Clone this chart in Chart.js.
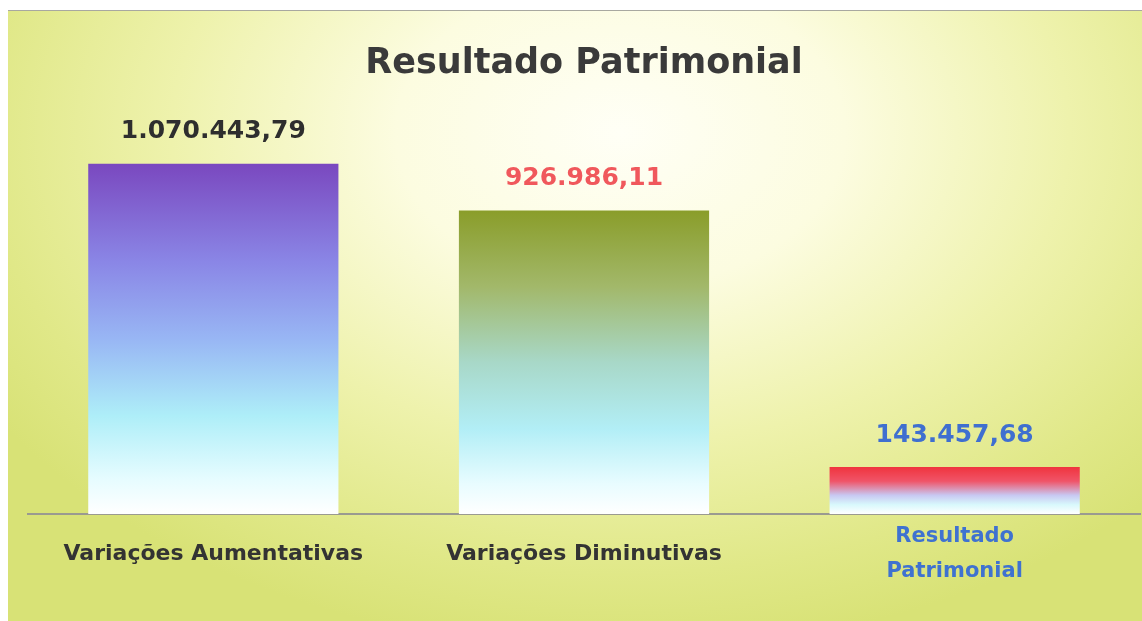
<!DOCTYPE html>
<html>
<head>
<meta charset="utf-8">
<script src="https://cdn.jsdelivr.net/npm/chart.js@4/dist/chart.umd.min.js"></script>
<style>
html, body { margin: 0; padding: 0; background: #ffffff; }
#bg {
  position: absolute; left: 8px; top: 10px; right: 0; bottom: 0;
  border-top: 1px solid #a8a8a0;
  background: radial-gradient(ellipse 66% 85% at 54% 20%, #fffff6 0%, #fcfce0 30%, #eef2ac 60%, #e0e888 85%, #d8e276 100%);
}
#wrap { position: absolute; left: 0; top: 0; width: 1142px; height: 621px; }
</style>
</head>
<body>
<div id="bg"></div>
<div id="wrap"><canvas id="grafico" width="1142" height="621"></canvas></div>
<script>
// dados do gráfico
const categorias = [['Variações Aumentativas'], ['Variações Diminutivas'], ['Resultado', 'Patrimonial']];
const valores = [1070443.79, 926986.11, 143457.68];
const rotulos = ['1.070.443,79', '926.986,11', '143.457,68'];
const coresRotulos = ['#2e2e2e', '#f0585c', '#3f6fd0'];
const coresEixo = ['#333333', '#333333', '#3f72d0'];
const gradientes = [
  [[0, '#7a48bf'], [0.28, '#8a86e6'], [0.5, '#98b6f4'], [0.72, '#aeeef8'], [0.9, '#e6fcff'], [1, '#ffffff']],
  [[0, '#8a9d2a'], [0.25, '#a2b86a'], [0.5, '#a8d8c8'], [0.72, '#b2eef6'], [0.9, '#e8fcff'], [1, '#ffffff']],
  [[0, '#f0343e'], [0.3, '#f05468'], [0.6, '#c8c8f2'], [0.8, '#d8f8fc'], [1, '#ffffff']]
];

function corBarra(ctx) {
  const chart = ctx.chart;
  if (!chart.chartArea) return '#8888cc';
  const y = chart.scales.y;
  const topo = y.getPixelForValue(valores[ctx.dataIndex]);
  const base = y.getPixelForValue(0);
  const g = chart.ctx.createLinearGradient(0, topo, 0, base);
  gradientes[ctx.dataIndex].forEach(s => g.addColorStop(s[0], s[1]));
  return g;
}

const rotulosPlugin = {
  id: 'rotulos',
  afterDatasetsDraw(chart) {
    const ctx = chart.ctx;
    const meta = chart.getDatasetMeta(0);
    ctx.save();
    ctx.font = 'bold 25px "DejaVu Sans"';
    ctx.textAlign = 'center';
    ctx.textBaseline = 'middle';
    meta.data.forEach((bar, i) => {
      ctx.fillStyle = coresRotulos[i];
      ctx.fillText(rotulos[i], bar.x, bar.y - 32);
    });
    ctx.restore();
  }
};

new Chart(document.getElementById('grafico'), {
  type: 'bar',
  data: {
    labels: categorias,
    datasets: [{
      data: valores,
      backgroundColor: corBarra,
      borderWidth: 0,
      barPercentage: 0.675,
      categoryPercentage: 1
    }]
  },
  options: {
    responsive: false,
    animation: false,
    layout: { padding: { left: 28, right: 2, top: 0, bottom: 27 } },
    plugins: {
      legend: { display: false },
      tooltip: { enabled: false },
      title: {
        display: true,
        text: 'Resultado Patrimonial',
        color: '#3a3a3a',
        font: { family: 'DejaVu Sans', size: 35, weight: 'bold', lineHeight: 1.2 },
        padding: { top: 43, bottom: 15 }
      }
    },
    scales: {
      x: {
        grid: { display: false, drawTicks: false },
        border: { display: true, color: '#9a9a90', width: 2 },
        ticks: {
          padding: 5,
          maxRotation: 0,
          autoSkip: false,
          color: c => coresEixo[c.index],
          font: c => c.index === 2
            ? { family: 'DejaVu Sans', size: 21, weight: 'bold', lineHeight: '35px' }
            : { family: 'DejaVu Sans', size: 22, weight: 'bold', lineHeight: '70px' }
        }
      },
      y: {
        display: false,
        min: 0,
        max: 1265000
      }
    }
  },
  plugins: [rotulosPlugin]
});
</script>
</body>
</html>
